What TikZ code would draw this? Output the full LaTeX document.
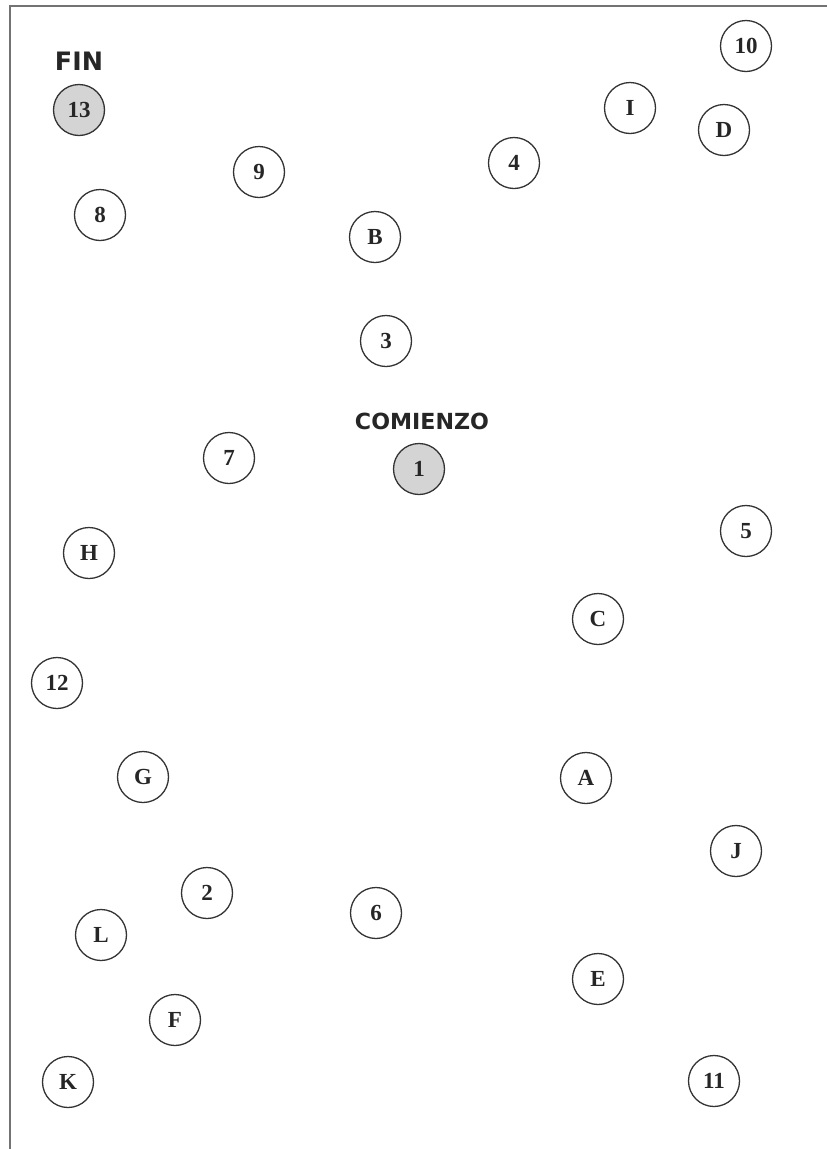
\documentclass[tikz,border=0pt]{standalone}
\usepackage{fontspec}
\usepackage{graphicx}
\setmainfont{Liberation Serif}
\newfontfamily\labfont{DejaVu Sans}
\begin{document}
\begin{tikzpicture}[x=1pt,y=-1pt,
  pt/.style={circle,draw=black!80,line width=1.3pt,minimum size=51pt,inner sep=0pt,
    font=\fontsize{23}{23}\selectfont\bfseries,text=black!85},
  endpt/.style={pt,fill=black!17},
  tag/.style={inner sep=0pt,font=\labfont\bfseries,text=black!85}]
\useasboundingbox (0,0) rectangle (827,1149);
\draw[black!55,line width=2pt] (10,1149) -- (10,6) -- (827,6);
\node[tag] (fin) at (79,61) {\resizebox{48pt}{!}{FIN}};
\node[endpt] (n13) at (79,110) {13};
\node[pt] (n10) at (746,46) {10};
\node[pt] (nI) at (630,108) {I};
\node[pt] (nD) at (724,130) {D};
\node[pt] (n4) at (514,163) {4};
\node[pt] (n9) at (259,172) {9};
\node[pt] (n8) at (100,215) {8};
\node[pt] (nB) at (375,237) {B};
\node[pt] (n3) at (386,341) {3};
\node[tag] (com) at (422,421) {\resizebox{134pt}{!}{COMIENZO}};
\node[endpt] (n1) at (419,469) {1};
\node[pt] (n7) at (229,458) {7};
\node[pt] (n5) at (746,531) {5};
\node[pt] (nH) at (89,553) {H};
\node[pt] (nC) at (598,619) {C};
\node[pt] (n12) at (57,683) {12};
\node[pt] (nG) at (143,777) {G};
\node[pt] (nA) at (586,778) {A};
\node[pt] (nJ) at (736,851) {J};
\node[pt] (n2) at (207,893) {2};
\node[pt] (n6) at (376,913) {6};
\node[pt] (nL) at (101,935) {L};
\node[pt] (nE) at (598,979) {E};
\node[pt] (nF) at (175,1020) {F};
\node[pt] (nK) at (68,1082) {K};
\node[pt] (n11) at (714,1081) {11};
\end{tikzpicture}
\end{document}
